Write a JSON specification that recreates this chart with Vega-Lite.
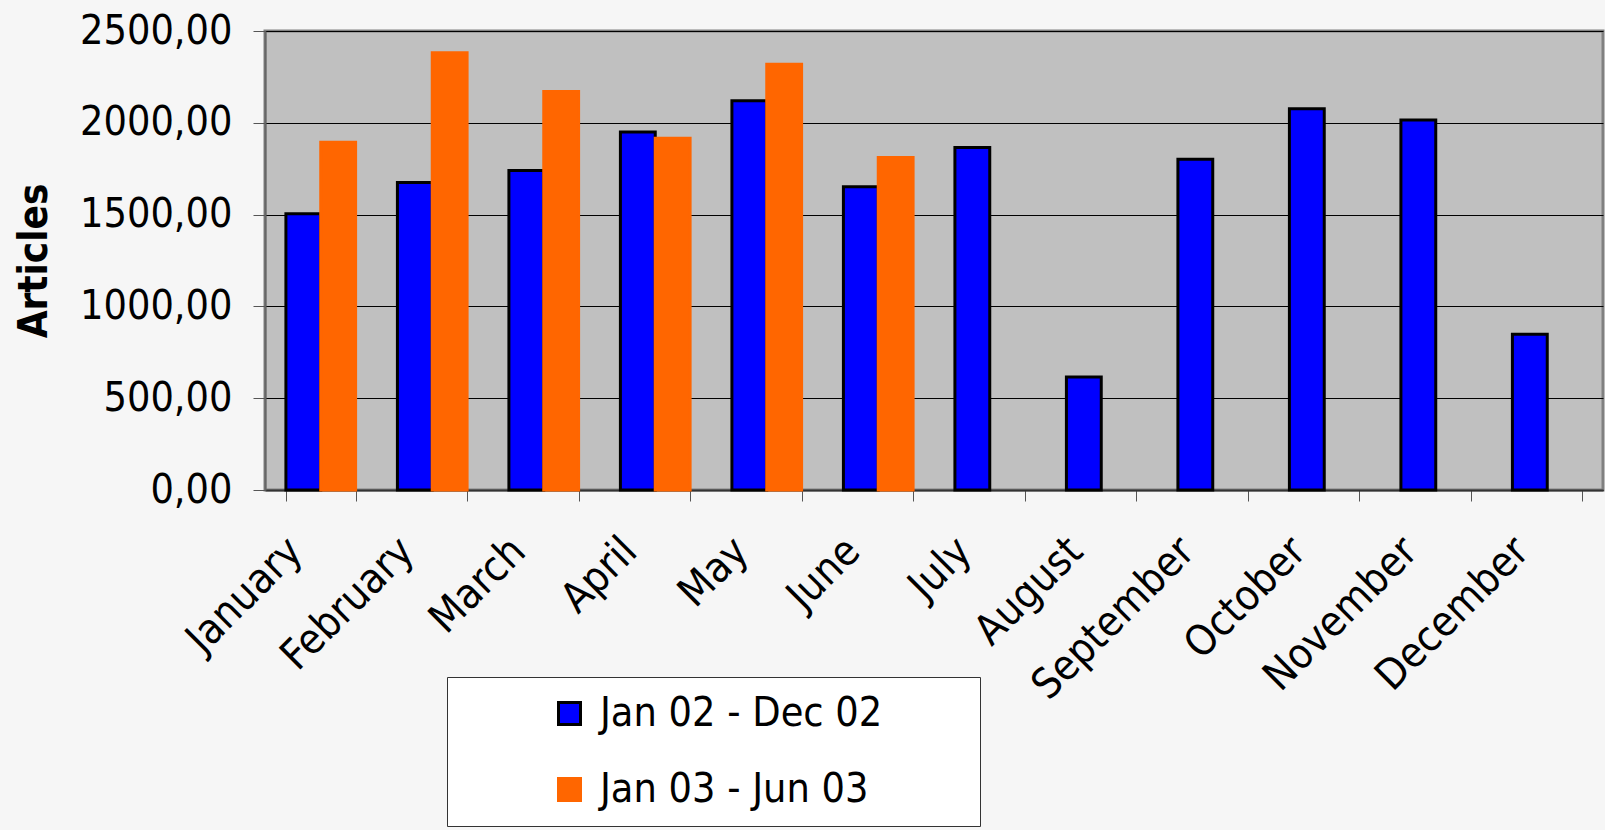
{
  "$schema": "https://vega.github.io/schema/vega-lite/v6.json",
  "width": 1338,
  "height": 459,
  "autosize": {"type": "none"},
  "padding": {"left": 265, "top": 31, "right": 2, "bottom": 340},
  "background": "#f6f6f6",
  "config": {
    "view": {"fill": "#c0c0c0", "stroke": "#808080", "strokeWidth": 3},
    "font": "DejaVu Sans Condensed"
  },
  "data": {
    "values": [
      {"month": "January", "series": "Jan 02 - Dec 02", "articles": 1505},
      {"month": "February", "series": "Jan 02 - Dec 02", "articles": 1675},
      {"month": "March", "series": "Jan 02 - Dec 02", "articles": 1740},
      {"month": "April", "series": "Jan 02 - Dec 02", "articles": 1950},
      {"month": "May", "series": "Jan 02 - Dec 02", "articles": 2120},
      {"month": "June", "series": "Jan 02 - Dec 02", "articles": 1652},
      {"month": "July", "series": "Jan 02 - Dec 02", "articles": 1865},
      {"month": "August", "series": "Jan 02 - Dec 02", "articles": 615},
      {"month": "September", "series": "Jan 02 - Dec 02", "articles": 1802},
      {"month": "October", "series": "Jan 02 - Dec 02", "articles": 2077},
      {"month": "November", "series": "Jan 02 - Dec 02", "articles": 2015},
      {"month": "December", "series": "Jan 02 - Dec 02", "articles": 848},
      {"month": "January", "series": "Jan 03 - Jun 03", "articles": 1894},
      {"month": "February", "series": "Jan 03 - Jun 03", "articles": 2382},
      {"month": "March", "series": "Jan 03 - Jun 03", "articles": 2170},
      {"month": "April", "series": "Jan 03 - Jun 03", "articles": 1916},
      {"month": "May", "series": "Jan 03 - Jun 03", "articles": 2319},
      {"month": "June", "series": "Jan 03 - Jun 03", "articles": 1811}
    ]
  },
  "mark": {"type": "bar", "strokeWidth": 3},
  "encoding": {
    "x": {
      "field": "month",
      "type": "nominal",
      "sort": ["January", "February", "March", "April", "May", "June", "July", "August", "September", "October", "November", "December"],
      "scale": {"paddingInner": 0.375, "paddingOuter": 0.1875},
      "axis": {
        "title": null,
        "labelAngle": -45,
        "labelFontSize": 42,
        "labelColor": "black",
        "labelLimit": 0,
        "tickBand": "extent",
        "tickSize": 11,
        "tickColor": "#555555",
        "domainColor": "#333333",
        "domainWidth": 2,
        "labelPadding": 29,
        "labelOffset": -40,
        "grid": false
      }
    },
    "xOffset": {
      "field": "series",
      "type": "nominal",
      "sort": ["Jan 02 - Dec 02", "Jan 03 - Jun 03"],
      "scale": {"domain": ["Jan 02 - Dec 02", "Jan 03 - Jun 03"], "paddingInner": 0, "paddingOuter": 0}
    },
    "y": {
      "field": "articles",
      "type": "quantitative",
      "scale": {"domain": [0, 2500], "nice": false},
      "axis": {
        "values": [0, 500, 1000, 1500, 2000, 2500],
        "labelExpr": "replace(format(datum.value, '.2f'), '.', ',')",
        "labelFontSize": 41,
        "labelColor": "black",
        "labelLimit": 0,
        "labelPadding": 21,
        "tickSize": 12,
        "tickColor": "#555555",
        "domainColor": "#666666",
        "domainWidth": 2,
        "grid": true,
        "gridColor": "black",
        "gridWidth": 1,
        "title": "Articles",
        "titleFontSize": 40,
        "titleFontWeight": "bold",
        "titleColor": "black",
        "titleX": -231,
        "titleY": 229.5,
        "titleAngle": 270,
        "titleAlign": "center",
        "titleBaseline": "middle"
      }
    },
    "fill": {
      "field": "series",
      "type": "nominal",
      "scale": {"domain": ["Jan 02 - Dec 02", "Jan 03 - Jun 03"], "range": ["#0000ff", "#ff6600"]},
      "legend": {
        "title": null,
        "orient": "none",
        "legendX": 182,
        "legendY": 646,
        "fillColor": "white",
        "strokeColor": "#333333",
        "padding": 16,
        "symbolType": "square",
        "symbolSize": 484,
        "symbolStrokeWidth": 3,
        "symbolOffset": 86,
        "labelFontSize": 41,
        "labelColor": "black",
        "labelLimit": 0,
        "labelOffset": 10,
        "labelExpr": "datum.label + '\u2800\u2800\u2800'",
        "rowPadding": 34
      }
    },
    "stroke": {
      "field": "series",
      "type": "nominal",
      "scale": {"domain": ["Jan 02 - Dec 02", "Jan 03 - Jun 03"], "range": ["#000000", "#ff6600"]},
      "legend": {
        "title": null,
        "orient": "none",
        "legendX": 182,
        "legendY": 646,
        "fillColor": "white",
        "strokeColor": "#333333",
        "padding": 16,
        "symbolType": "square",
        "symbolSize": 484,
        "symbolStrokeWidth": 3,
        "symbolOffset": 86,
        "labelFontSize": 41,
        "labelColor": "black",
        "labelLimit": 0,
        "labelOffset": 10,
        "labelExpr": "datum.label + '\u2800\u2800\u2800'",
        "rowPadding": 34
      }
    }
  }
}
